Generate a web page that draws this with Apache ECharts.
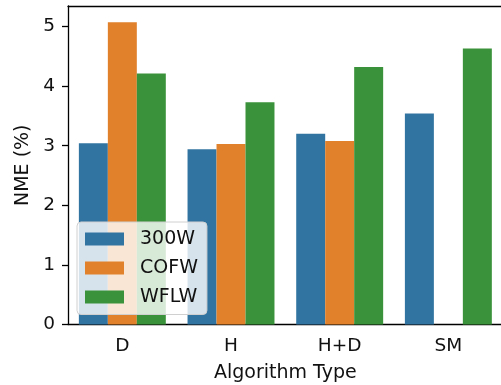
<!DOCTYPE html>
<html>
<head>
<meta charset="utf-8">
<script src="https://cdn.jsdelivr.net/npm/echarts@6/dist/echarts.min.js"></script>
<style>html,body{margin:0;padding:0;background:#fff;}#c{width:501px;height:385px;}</style>
</head>
<body>
<div id="c"></div>
<script>
var categories = ['D', 'H', 'H+D', 'SM'];
var seriesNames = ['300W', 'COFW', 'WFLW'];
var values300W = [3.04, 2.94, 3.20, 3.54];
var valuesCOFW = [5.07, 3.03, 3.08, null];
var valuesWFLW = [4.21, 3.73, 4.32, 4.63];
var yTicks = [0, 1, 2, 3, 4, 5];
var colors = ['#3274a1', '#e1812c', '#3a923a'];

var font = 'DejaVu Sans';
var txt = '#111';
var chart = echarts.init(document.getElementById('c'), null, {renderer: 'canvas'});
var allValues = [values300W, valuesCOFW, valuesWFLW];
chart.setOption({
  animation: false,
  backgroundColor: '#fff',
  color: colors,
  grid: {left: 68, right: -1.7, top: 6, bottom: 60.5, containLabel: false, outerBoundsMode: 'none'},
  legend: {
    data: seriesNames,
    orient: 'vertical',
    left: 77, top: 222,
    padding: [7.5, 9, 8, 8],
    itemWidth: 39, itemHeight: 13, itemGap: 10,
    icon: 'rect',
    backgroundColor: 'rgba(255,255,255,0.8)',
    borderColor: '#d0d0d0', borderWidth: 1, borderRadius: 4,
    textStyle: {fontFamily: font, fontSize: 19, color: txt, lineHeight: 19, padding: [0, 0, 0, 11]}
  },
  xAxis: [{
    type: 'category', data: categories,
    name: 'Algorithm Type', nameLocation: 'middle', nameGap: 39,
    nameTextStyle: {fontFamily: font, fontSize: 19, color: txt},
    axisLine: {lineStyle: {color: '#000', width: 1.3}},
    axisTick: {alignWithLabel: true, length: 6, lineStyle: {color: '#000', width: 1.3}},
    axisLabel: {fontFamily: font, fontSize: 18.5, color: txt, margin: 12}
  }, {
    type: 'category', data: categories, position: 'top',
    axisLine: {show: true, lineStyle: {color: '#000', width: 1.3}},
    axisTick: {show: false}, axisLabel: {show: false}, splitLine: {show: false}
  }],
  yAxis: {
    type: 'value', min: 0, max: 5.344, interval: 1,
    name: 'NME (%)', nameLocation: 'middle', nameGap: 31,
    nameTextStyle: {fontFamily: font, fontSize: 19, color: txt},
    splitLine: {show: false},
    axisLine: {show: true, lineStyle: {color: '#000', width: 1.3}},
    axisTick: {show: true, length: 6, customValues: yTicks, lineStyle: {color: '#000', width: 1.3}},
    axisLabel: {fontFamily: font, fontSize: 18.5, color: txt, margin: 13, customValues: yTicks}
  },
  series: seriesNames.map(function (n, i) {
    return {name: n, type: 'bar', xAxisIndex: 0, data: allValues[i], barGap: '0%', barCategoryGap: '20%', itemStyle: {color: colors[i]}};
  })
});
</script>
</body>
</html>
